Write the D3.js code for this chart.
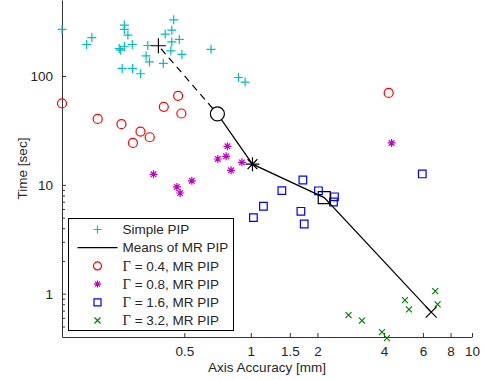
<!DOCTYPE html>
<html>
<head>
<meta charset="utf-8">
<script src="https://cdn.jsdelivr.net/npm/d3@7"></script>
<style>
  body { margin: 0; background: #fff; }
  text { font-family: "Liberation Sans", Arial, sans-serif; fill: #262626; }
</style>
</head>
<body>
<div class="canvas"></div>
<script>
// ---- data (axis accuracy in mm, time in sec) ----
const simpleAcc = [0.14, 0.181, 0.191, 0.268, 0.268, 0.278, 0.254, 0.258, 0.268, 0.291, 0.262, 0.292, 0.317, 0.342,
  0.336, 0.348, 0.402, 0.41, 0.439, 0.448, 0.439, 0.475, 0.435, 0.488, 0.661, 0.879, 0.942];
const simpleTime = [268, 195, 226, 294, 268, 238, 179, 173, 188, 195, 117.5, 117.5, 105, 191,
  153, 135, 130.6, 243, 264, 329, 206, 217, 170.6, 158, 176, 97, 88];

const g04Acc = [0.14, 0.203, 0.26, 0.317, 0.293, 0.349, 0.404, 0.469, 0.485, 4.2];
const g04Time = [56, 40.4, 36.1, 30.9, 24.3, 27.4, 52.1, 65.8, 45.3, 70];

const g08Acc = [0.363, 0.463, 0.479, 0.541, 0.709, 0.784, 0.773, 0.814, 0.911, 4.33];
const g08Time = [12.5, 9.57, 8.42, 10.9, 17.3, 22.6, 18.3, 13.6, 16.1, 24.3];

const g16Acc = [1.719, 1.381, 2.022, 2.389, 2.364, 1.14, 1.027, 1.684, 1.743, 5.96];
const g16Time = [11.09, 8.86, 8.82, 7.77, 6.96, 6.36, 5.0, 5.72, 4.37, 12.6];

const g32Acc = [2.765, 3.18, 3.915, 4.125, 4.975, 5.188, 6.82, 6.99];
const g32Time = [0.636, 0.565, 0.444, 0.39, 0.873, 0.717, 1.057, 0.797];

// means: simple PIP, then Γ = 0.4, 0.8, 1.6, 3.2
const meanAcc = [0.382, 0.706, 1.017, 2.147, 6.54];
const meanTime = [190, 44.9, 15.5, 7.64, 0.677];

const xTicks = [0.5, 1, 1.5, 2, 4, 6, 8, 10];
const yTicks = [1, 10, 100];
const yMinor = [0.5, 0.6, 0.7, 0.8, 0.9, 2, 3, 4, 5, 6, 7, 8, 9];

const legendLabels = ['Simple PIP', 'Means of MR PIP', 'Γ = 0.4, MR PIP', 'Γ = 0.8, MR PIP',
  'Γ = 1.6, MR PIP', 'Γ = 3.2, MR PIP'];

// ---- layout ----
const width = 485, height = 380;
const plot = { left: 62, right: 472, top: 0, bottom: 337 };

const svg = d3.select('.canvas').append('svg')
  .attr('width', width)
  .attr('height', height);

const x = d3.scaleLog().domain([0.14, 10]).range([plot.left, plot.right]);
const y = d3.scaleLog().domain([0.4, 500]).range([plot.bottom, plot.top]);

// marker shapes, centred on 0,0
function marker(type, s) {
  const d = s * 0.7;
  switch (type) {
    case 'plus': return `M${-s},0H${s}M0,${-s}V${s}`;
    case 'times': return `M${-s},${-s}L${s},${s}M${-s},${s}L${s},${-s}`;
    case 'star': return `M${-s},0H${s}M0,${-s}V${s}M${-d},${-d}L${d},${d}M${-d},${d}L${d},${-d}`;
    case 'square': return `M${-s},${-s}H${s}V${s}H${-s}Z`;
    case 'circle': return `M${s},0A${s},${s} 0 1 1 ${-s},0A${s},${s} 0 1 1 ${s},0Z`;
  }
}

const axisColor = '#333';

// ---- axes ----
const xAxisGroup = svg.append('g').attr('transform', `translate(0, ${plot.bottom})`);
xAxisGroup.call(d3.axisBottom(x).tickValues(xTicks).tickFormat(d3.format('')).tickSizeInner(-4).tickSizeOuter(0).tickPadding(9));

const yAxisGroup = svg.append('g').attr('transform', `translate(${plot.left}, 0)`);
yAxisGroup.call(d3.axisLeft(y).tickValues(yTicks).tickFormat(d3.format('')).tickSizeInner(-4).tickSizeOuter(0).tickPadding(9));

const yMinorGroup = svg.append('g').attr('transform', `translate(${plot.left}, 0)`);
yMinorGroup.call(d3.axisLeft(y).tickValues(yMinor).tickFormat('').tickSizeInner(-3).tickSizeOuter(0));
yMinorGroup.select('.domain').remove();

svg.selectAll('.domain').attr('stroke', axisColor);
svg.selectAll('.tick line').attr('stroke', axisColor);
svg.selectAll('.tick text')
  .attr('font-size', '13.5px')
  .attr('font-family', '"Liberation Sans", Arial, sans-serif')
  .attr('fill', '#262626');

// axis titles
svg.append('text')
  .attr('x', (plot.left + plot.right) / 2)
  .attr('y', 372)
  .attr('text-anchor', 'middle')
  .attr('font-size', '13.5px')
  .text('Axis Accuracy [mm]');

svg.append('text')
  .attr('transform', `translate(27, ${(plot.top + plot.bottom) / 2}) rotate(-90)`)
  .attr('text-anchor', 'middle')
  .attr('font-size', '13.5px')
  .text('Time [sec]');

// ---- scatter series ----
const series = [
  { acc: simpleAcc, time: simpleTime, type: 'plus', size: 4.5, color: '#00bfbf' },
  { acc: g04Acc, time: g04Time, type: 'circle', size: 4.5, color: '#ff0000' },
  { acc: g08Acc, time: g08Time, type: 'star', size: 4, color: '#bf00bf' },
  { acc: g16Acc, time: g16Time, type: 'square', size: 3.8, color: '#0000ff' },
  { acc: g32Acc, time: g32Time, type: 'times', size: 3, color: '#008000' }
];

series.forEach(s => {
  svg.append('g').selectAll('path')
    .data(s.acc.map((a, i) => [a, s.time[i]]))
    .enter().append('path')
    .attr('d', marker(s.type, s.size))
    .attr('transform', d => `translate(${x(d[0])}, ${y(d[1])})`)
    .attr('fill', 'none')
    .attr('stroke', s.color)
    .attr('stroke-width', 1.2);
});

// ---- means ----
const means = meanAcc.map((a, i) => [a, meanTime[i]]);
const line = d3.line().x(d => x(d[0])).y(d => y(d[1]));

svg.append('path')
  .attr('d', line(means.slice(0, 2)))
  .attr('fill', 'none')
  .attr('stroke', '#000')
  .attr('stroke-width', 1.2)
  .attr('stroke-dasharray', '7,5')
  .attr('stroke-dashoffset', -4);

svg.append('path')
  .attr('d', line(means.slice(1)))
  .attr('fill', 'none')
  .attr('stroke', '#000')
  .attr('stroke-width', 1.2);

const meanTypes = ['plus', 'circle', 'star', 'square', 'times'];
const meanSizes = [7.5, 7, 7, 6, 5.5];
svg.append('g').selectAll('path')
  .data(means)
  .enter().append('path')
  .attr('d', (d, i) => marker(meanTypes[i], meanSizes[i]))
  .attr('transform', d => `translate(${x(d[0])}, ${y(d[1])})`)
  .attr('fill', (d, i) => meanTypes[i] === 'circle' ? '#fff' : 'none')
  .attr('stroke', '#000')
  .attr('stroke-width', 1.2);

// ---- legend ----
const legend = svg.append('g').attr('transform', 'translate(68.5, 218.5)');
legend.append('rect')
  .attr('width', 165)
  .attr('height', 112)
  .attr('fill', '#fff')
  .attr('stroke', '#000');

const legendItems = [
  { type: 'plus', size: 4, color: '#00bfbf' },
  { type: 'line', color: '#000' },
  { type: 'circle', size: 4, color: '#ff0000' },
  { type: 'star', size: 3.5, color: '#bf00bf' },
  { type: 'square', size: 3.5, color: '#0000ff' },
  { type: 'times', size: 3, color: '#008000' }
];

const rows = legend.selectAll('g.row')
  .data(legendItems)
  .enter().append('g')
  .attr('class', 'row')
  .attr('transform', (d, i) => `translate(0, ${11 + i * 18.2})`);

rows.append('path')
  .attr('d', d => d.type === 'line' ? 'M9,0H49' : marker(d.type, d.size))
  .attr('transform', d => d.type === 'line' ? null : 'translate(29, 0)')
  .attr('fill', 'none')
  .attr('stroke', d => d.color)
  .attr('stroke-width', 1.2);

// Γ is set in a serif face like the original
const labels = rows.append('text')
  .attr('x', 54)
  .attr('dy', '0.35em')
  .attr('font-size', '13.5px');

labels.each(function(d, i) {
  const t = d3.select(this);
  const label = legendLabels[i];
  if (label.startsWith('Γ')) {
    t.append('tspan').attr('font-family', '"Liberation Serif", "Times New Roman", serif').attr('font-size', '14.5px').text('Γ');
    t.append('tspan').text(label.slice(1));
  } else {
    t.text(label);
  }
});
</script>
</body>
</html>
